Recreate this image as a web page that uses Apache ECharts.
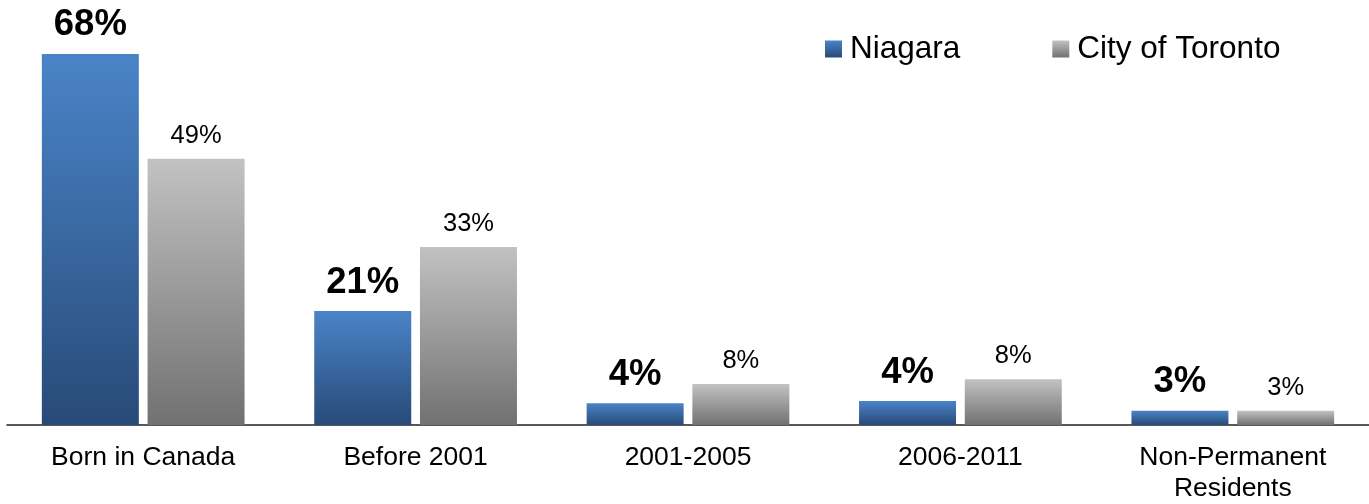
<!DOCTYPE html>
<html>
<head>
<meta charset="utf-8">
<script src="https://cdn.jsdelivr.net/npm/echarts@6/dist/echarts.min.js"></script>
<style>html,body{margin:0;padding:0;background:#fff}#c{width:1369px;height:504px}</style>
</head>
<body>
<div id="c"></div>
<script>
const categories = ["Born in Canada", "Before 2001", "2001-2005", "2006-2011", "Non-Permanent\nResidents"];
const niagaraValues = [68, 20.9, 4.0, 4.4, 2.6];
const torontoValues = [48.8, 32.6, 7.5, 8.4, 2.6];
const niagaraLabels = ["68%", "21%", "4%", "4%", "3%"];
const torontoLabels = ["49%", "33%", "8%", "8%", "3%"];
const seriesNames = ["Niagara", "City of Toronto"];

const font = "'Liberation Sans', Arial, sans-serif";
const chart = echarts.init(document.getElementById('c'), null, {renderer: 'canvas'});

function grad(top, bottom) {
  return new echarts.graphic.LinearGradient(0, 0, 0, 1, [
    {offset: 0, color: top}, {offset: 1, color: bottom}
  ]);
}

chart.setOption({
  animation: false,
  backgroundColor: '#fff',
  textStyle: {fontFamily: font},
  legend: {
    left: 825, top: 33, padding: 0,
    itemWidth: 17, itemHeight: 17, itemGap: 92,
    icon: 'rect',
    textStyle: {fontSize: 31.5, color: '#000', fontFamily: font, padding: [0, 0, 0, 3]},
    data: seriesNames
  },
  grid: {left: 7, right: 0, top: 43, bottom: 79, containLabel: false},
  xAxis: {
    type: 'category',
    data: categories,
    axisLine: {lineStyle: {color: '#222', width: 1.5}},
    axisTick: {show: false},
    axisLabel: {fontSize: 26.5, color: '#000', fontFamily: font, margin: 17, lineHeight: 31, interval: 0}
  },
  yAxis: {
    type: 'value', min: 0, max: 70,
    show: false,
    splitLine: {show: false}
  },
  series: [
    {
      name: seriesNames[0], type: 'bar',
      data: niagaraValues,
      barWidth: 97, barGap: '9%',
      itemStyle: {color: grad('#4a84c8', '#284a78')},
      label: {
        show: true, position: 'top', distance: 10,
        fontSize: 36.5, fontWeight: 'bold', color: '#000', fontFamily: font,
        formatter: p => niagaraLabels[p.dataIndex]
      }
    },
    {
      name: seriesNames[1], type: 'bar',
      data: torontoValues,
      barWidth: 97,
      itemStyle: {color: grad('#c2c2c2', '#717171')},
      label: {
        show: true, position: 'top', distance: 10,
        fontSize: 25.5, color: '#000', fontFamily: font,
        formatter: p => torontoLabels[p.dataIndex]
      }
    }
  ]
});
</script>
</body>
</html>
